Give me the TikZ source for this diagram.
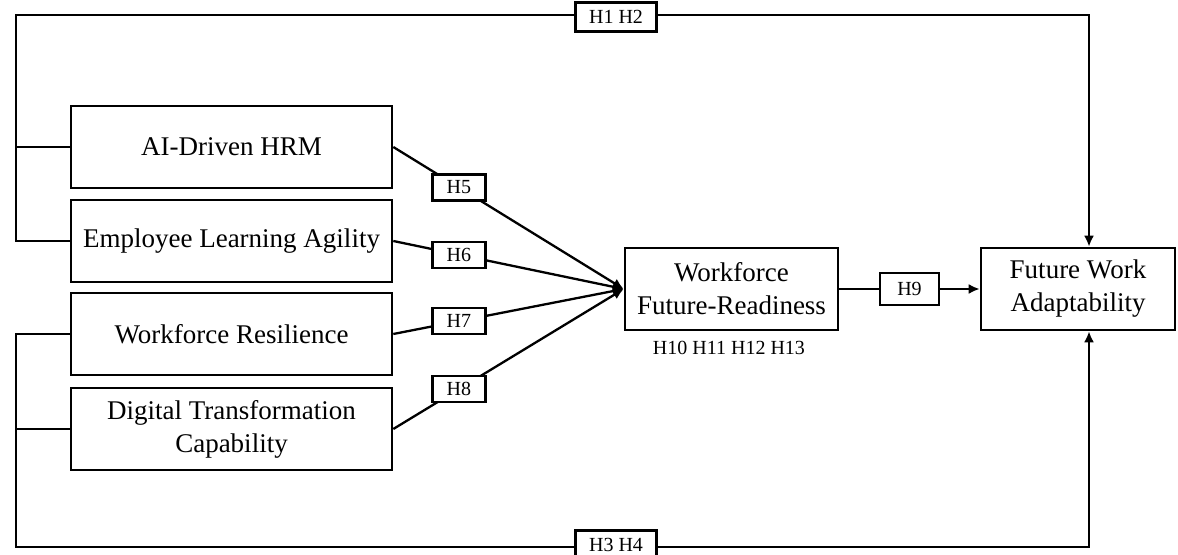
\documentclass[tikz,border=0pt]{standalone}
\usepackage{fontspec}
\setmainfont{Liberation Serif}
\usetikzlibrary{arrows.meta,positioning}

\begin{document}
\begin{tikzpicture}[
    x=0.5pt, y=-0.5pt,
    every node/.style={font=\fontsize{13.5}{16.5}\selectfont},
    var/.style={rectangle, draw, line width=1.3pt, minimum width=160.5pt, minimum height=41pt, align=center, inner sep=2pt},
    hlab/.style={rectangle, draw, fill=white, line width=1.1pt, font=\fontsize{10}{12}\selectfont, inner sep=1pt, minimum width=26.5pt, minimum height=13pt},
    line/.style={line width=1.15pt},
    arr/.style={line width=1.15pt, -{Latex[length=5.5pt,width=5pt]}}
]
  \useasboundingbox (0,0) rectangle (1178,555);
  \clip (0,0) rectangle (1178,555);

  \node[var] (ai)  at (231.5,147) {AI-Driven HRM};
  \node[var] (ela) at (231.5,241) {Employee Learning Agility};
  \node[var] (wr)  at (231.5,334) {Workforce Resilience};
  \node[var] (dtc) at (231.5,429) {Digital Transformation\\Capability};

  \node[var, minimum width=106.5pt] (wfr) at (731.5,289) {Workforce\\Future-Readiness};
  \node[var, minimum width=97pt]    (fwa) at (1078,289)  {Future Work\\Adaptability};

  \node[font=\fontsize{10}{12}\selectfont] (hnote) at (729,348) {H10 H11 H12 H13};

  % corners of the two outer paths
  \coordinate (tl) at (16,15);
  \coordinate (tr) at (1089,15);
  \coordinate (bl) at (16,547);
  \coordinate (br) at (1089,547);

  \draw[line] (ai.west) -- (ai.west -| tl);
  \draw[arr] (ela.west) -- (ela.west -| tl) |- (tr) -- (tr |- fwa.north);
  \draw[line] (dtc.west) -- (dtc.west -| bl);
  \draw[arr] (wr.west) -- (wr.west -| bl) |- (br) -- (br |- fwa.south);

  \node[hlab, minimum width=40.5pt, minimum height=14.5pt] (h12) at (616,17) {H1 H2};
  \node[hlab, minimum width=40.5pt, minimum height=14.5pt] (h34) at (616,545) {H3 H4};

  % paths into the mediator
  \foreach \s/\h in {ai/5, ela/6, wr/7, dtc/8}{
    \draw[arr] (\s.east) -- (wfr.west) node[hlab, pos=0.285] (h\h) {H\h};
  }

  \draw[arr] (wfr.east) -- (fwa.west) node[hlab, midway, minimum width=29.5pt, minimum height=16pt] (h9) {H9};
\end{tikzpicture}
\end{document}
